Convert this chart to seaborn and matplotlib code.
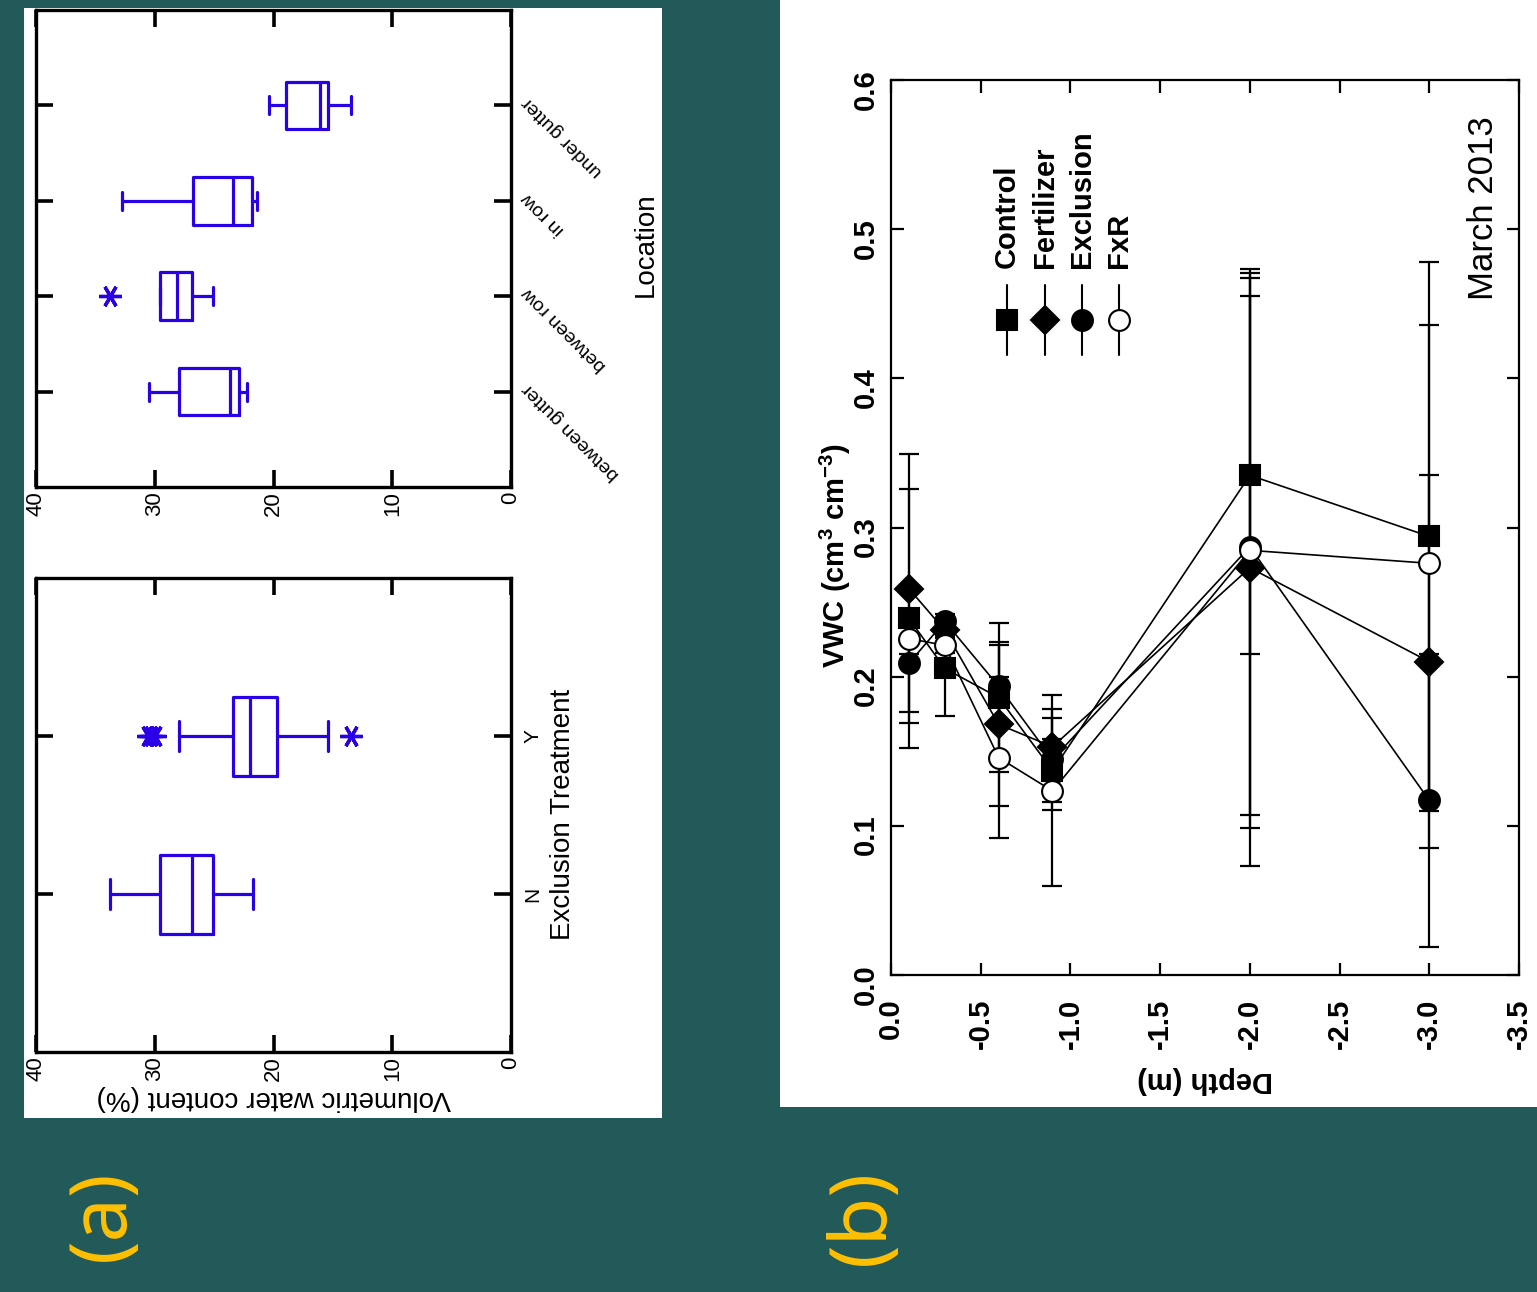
import matplotlib
matplotlib.use("Agg")
import matplotlib.pyplot as plt
from matplotlib import font_manager
from matplotlib.patches import Rectangle
import numpy as np
import pandas as pd
import seaborn as sns

sns.set_style("ticks")
plt.rcParams["font.family"] = ["Liberation Sans", "DejaVu Sans"]
plt.rcParams["axes.unicode_minus"] = False
plt.rcParams["mathtext.fontset"] = "custom"
plt.rcParams["mathtext.rm"] = "Liberation Sans"
plt.rcParams["mathtext.bf"] = "Liberation Sans:bold"
plt.rcParams["mathtext.default"] = "bf"
for key in ("axes.edgecolor", "xtick.color", "ytick.color", "text.color", "axes.labelcolor"):
    plt.rcParams[key] = "black"

# ---------------- data ----------------
# (a) soil water content box summaries, by location
location_labels = ["between gutter", "between row", "in row", "under gutter"]
loc_q1 = [22.9, 26.9, 21.8, 15.4]
loc_median = [23.7, 28.1, 23.4, 16.1]
loc_q3 = [28.0, 29.6, 26.8, 18.95]
loc_whisker_low = [22.2, 25.1, 21.4, 13.5]
loc_whisker_high = [30.5, 29.6, 32.8, 20.4]
loc_outliers = [[], [33.8], [], []]

# (a) soil water content box summaries, by exclusion treatment
excl_labels = ["N", "Y"]
excl_q1 = [25.1, 19.7]
excl_median = [26.9, 22.0]
excl_q3 = [29.6, 23.4]
excl_whisker_low = [21.7, 15.4]
excl_whisker_high = [33.8, 28.0]
excl_outliers = [[], [30.0, 30.3, 30.6, 13.5]]

# (b) VWC depth profiles, March 2013
depth = [-0.1, -0.3, -0.6, -0.9, -2.0, -3.0]
treatments = ["Control", "Fertilizer", "Exclusion", "FxR"]
vwc_control = [0.239, 0.2055, 0.186, 0.137, 0.335, 0.294]
vwc_fertilizer = [0.259, 0.231, 0.168, 0.153, 0.273, 0.210]
vwc_exclusion = [0.209, 0.237, 0.1935, 0.1445, 0.287, 0.117]
vwc_fxr = [0.2255, 0.221, 0.1457, 0.1234, 0.2847, 0.276]
err_control = [0.087, 0.032, 0.050, 0.021, 0.120, 0.184]
err_fertilizer = [0.090, 0.004, 0.055, 0.019, 0.200, 0.125]
err_exclusion = [0.033, 0.005, 0.028, 0.034, 0.180, 0.098]
err_fxr = [0.010, 0.005, 0.054, 0.064, 0.186, 0.160]

TEAL = "#225A5A"
BLUE = "#2A00E6"
GOLD = "#FFC000"

names = {f.name for f in font_manager.fontManager.ttflist}
if "Liberation Sans Narrow" in names:
    NARROW = ["Liberation Sans Narrow", "Liberation Sans"]
    narrow_big, narrow_small, narrow_tick = 24.5, 17, 18
else:
    NARROW = ["Liberation Sans", "DejaVu Sans"]
    narrow_big, narrow_small, narrow_tick = 20, 14, 15

W, H = 1537, 1292
fig = plt.figure(figsize=(W / 100, H / 100), dpi=100, facecolor=TEAL)


def px_box(x0, y0, x1, y1):
    return [x0 / W, 1 - y1 / H, (x1 - x0) / W, (y1 - y0) / H]


for x0, y0, x1, y1 in [(24, 8, 662, 1118), (780, 0, 1537, 1107)]:
    l, b, w, h = px_box(x0, y0, x1, y1)
    fig.add_artist(Rectangle((l, b), w, h, transform=fig.transFigure,
                             facecolor="white", edgecolor="none", zorder=-5))


def box_panel(ax, labels, q1, med, q3, wlo, whi, fliers, label_kw):
    stats = [dict(label=lab, q1=a, med=m, q3=c, whislo=lo, whishi=hi, fliers=f)
             for lab, a, m, c, lo, hi, f in zip(labels, q1, med, q3, wlo, whi, fliers)]
    line = dict(color=BLUE, linewidth=2.3)
    ax.bxp(stats, positions=list(range(len(labels))), widths=0.5, capwidths=0.19,
           orientation="horizontal", showfliers=True,
           boxprops=line, whiskerprops=line, capprops=line, medianprops=line,
           flierprops=dict(marker=(6, 2, 90), markersize=16, markeredgecolor=BLUE,
                           markerfacecolor=BLUE, markeredgewidth=2.4, linestyle="none"))
    ax.set_facecolor("white")
    ax.set_xlim(40, 0)
    ax.set_ylim(-1, len(labels))
    ax.set_xticks([0, 10, 20, 30, 40])
    ax.set_xticklabels(["0", "10", "20", "30", "40"], rotation=90, fontsize=16)
    ax.set_yticks(list(range(len(labels))))
    ax.tick_params(axis="x", direction="in", top=True, bottom=True,
                   length=12, width=2.6, pad=3)
    ax.tick_params(axis="y", direction="in", left=True, right=True,
                   labelleft=False, labelright=True, length=12, width=2.6,
                   pad=label_kw["pad"])
    ax.set_yticklabels(labels)
    for t in ax.yaxis.get_major_ticks():
        t.label2.set_family(NARROW)
        t.label2.set_fontsize(label_kw["size"])
        t.label2.set_rotation(label_kw["rotation"])
        t.label2.set_rotation_mode(label_kw["mode"])
        t.label2.set_ha(label_kw["ha"])
        t.label2.set_va(label_kw["va"])
    for s in ax.spines.values():
        s.set_linewidth(2.4)
        s.set_color("black")


# ---- (a) top: location ----
ax1 = fig.add_axes(px_box(36, 10, 511, 487))
box_panel(ax1, location_labels, loc_q1, loc_median, loc_q3, loc_whisker_low,
          loc_whisker_high, loc_outliers,
          dict(pad=6, size=narrow_small, rotation=135, mode="anchor", ha="right", va="top"))
ax1.text(1.284, 0.507, "Location", transform=ax1.transAxes, rotation=90,
         ha="center", va="center", fontsize=narrow_big, family=NARROW)

# ---- (a) bottom: exclusion treatment ----
ax2 = fig.add_axes(px_box(36, 578, 511, 1052))
box_panel(ax2, excl_labels, excl_q1, excl_median, excl_q3, excl_whisker_low,
          excl_whisker_high, excl_outliers,
          dict(pad=9, size=narrow_tick, rotation=90, mode="default", ha="left", va="center"))
ax2.text(1.109, 0.502, "Exclusion Treatment", transform=ax2.transAxes, rotation=90,
         ha="center", va="center", fontsize=narrow_big, family=NARROW)
ax2.text(0.5, -0.097, "Volumetric water content (%)", transform=ax2.transAxes,
         rotation=180, ha="center", va="center", fontsize=narrow_big, family=NARROW)

# ---- (b) depth profile ----
axb = fig.add_axes(px_box(891, 80, 1519, 975))
axb.set_facecolor("white")

series = {"Control": (vwc_control, err_control),
          "Fertilizer": (vwc_fertilizer, err_fertilizer),
          "Exclusion": (vwc_exclusion, err_exclusion),
          "FxR": (vwc_fxr, err_fxr)}
marker_of = {"Control": "s", "Fertilizer": "D", "Exclusion": "o", "FxR": "o"}
size_of = {"Control": 15, "Fertilizer": 14, "Exclusion": 15, "FxR": 15}
face_of = {"Control": "black", "Fertilizer": "black", "Exclusion": "black", "FxR": "white"}

df = pd.DataFrame({
    "Depth": depth * len(treatments),
    "VWC": vwc_control + vwc_fertilizer + vwc_exclusion + vwc_fxr,
    "Treatment": [t for t in treatments for _ in depth],
})

for t in treatments:
    vals, errs = series[t]
    axb.errorbar(depth, vals, yerr=errs, fmt="none", ecolor="black",
                 elinewidth=1.6, capsize=7, capthick=1.6, zorder=2)

n_before = len(axb.lines)
sns.lineplot(data=df, x="Depth", y="VWC", hue="Treatment", style="Treatment",
             hue_order=treatments, style_order=treatments,
             palette={t: "black" for t in treatments}, markers=marker_of,
             dashes=False, sort=False, errorbar=None, legend=False,
             linewidth=1.2, markeredgecolor="black", markeredgewidth=1.5,
             markersize=15, ax=axb, zorder=3)
for line, t in zip(axb.lines[n_before:], treatments):
    line.set_markersize(size_of[t])
    line.set_markerfacecolor(face_of[t])

axb.set_xlim(0, -3.5)
axb.set_ylim(0, 0.6)
xt = [0.0, -0.5, -1.0, -1.5, -2.0, -2.5, -3.0, -3.5]
yt = [0.0, 0.1, 0.2, 0.3, 0.4, 0.5, 0.6]
axb.set_xticks(xt, [f"{v:.1f}" for v in xt], rotation=90, fontsize=21, fontweight="bold")
axb.set_yticks(yt, [f"{v:.1f}" for v in yt], rotation=90, fontsize=21, fontweight="bold")
axb.tick_params(axis="x", direction="in", top=True, bottom=True, length=9, width=1.6, pad=17)
axb.tick_params(axis="y", direction="in", left=True, right=True, length=9, width=1.6, pad=8)
for s in axb.spines.values():
    s.set_linewidth(1.6)
    s.set_color("black")
axb.set_xlabel("")
axb.set_ylabel("")
axb.text(0.5, -0.117, "Depth (m)", transform=axb.transAxes, rotation=180,
         ha="center", va="center", fontsize=21, fontweight="bold")
axb.text(-0.089, 0.469, "VWC (cm$^{3}$ cm$^{-3}$)", transform=axb.transAxes,
         rotation=90, ha="center", va="center", fontsize=21, fontweight="bold")
axb.text(0.943, 0.754, "March 2013", transform=axb.transAxes, rotation=90,
         ha="center", va="bottom", fontsize=25)

# key drawn inside the profile axes
for i, t in enumerate(treatments):
    xf = 0.185 + i * 0.0595
    axb.plot([xf, xf], [0.693, 0.771], transform=axb.transAxes, color="black",
             lw=1.5, zorder=4)
    axb.plot([xf], [0.732], transform=axb.transAxes, linestyle="none",
             marker=marker_of[t], markersize=size_of[t], markerfacecolor=face_of[t],
             markeredgecolor="black", markeredgewidth=1.5, zorder=5)
    axb.text(xf, 0.79, t, transform=axb.transAxes, rotation=90, ha="center",
             va="bottom", fontsize=21, fontweight="bold")

# panel letters
fig.text(103 / W, 1 - 1215 / H, "(a)", rotation=90, ha="center", va="center",
         fontsize=57, color=GOLD, family=["Noto Sans", "DejaVu Sans"])
fig.text(863 / W, 1 - 1217 / H, "(b)", rotation=90, ha="center", va="center",
         fontsize=57, color=GOLD, family=["Noto Sans", "DejaVu Sans"])

fig.savefig("out.png", dpi=100, facecolor=TEAL)
